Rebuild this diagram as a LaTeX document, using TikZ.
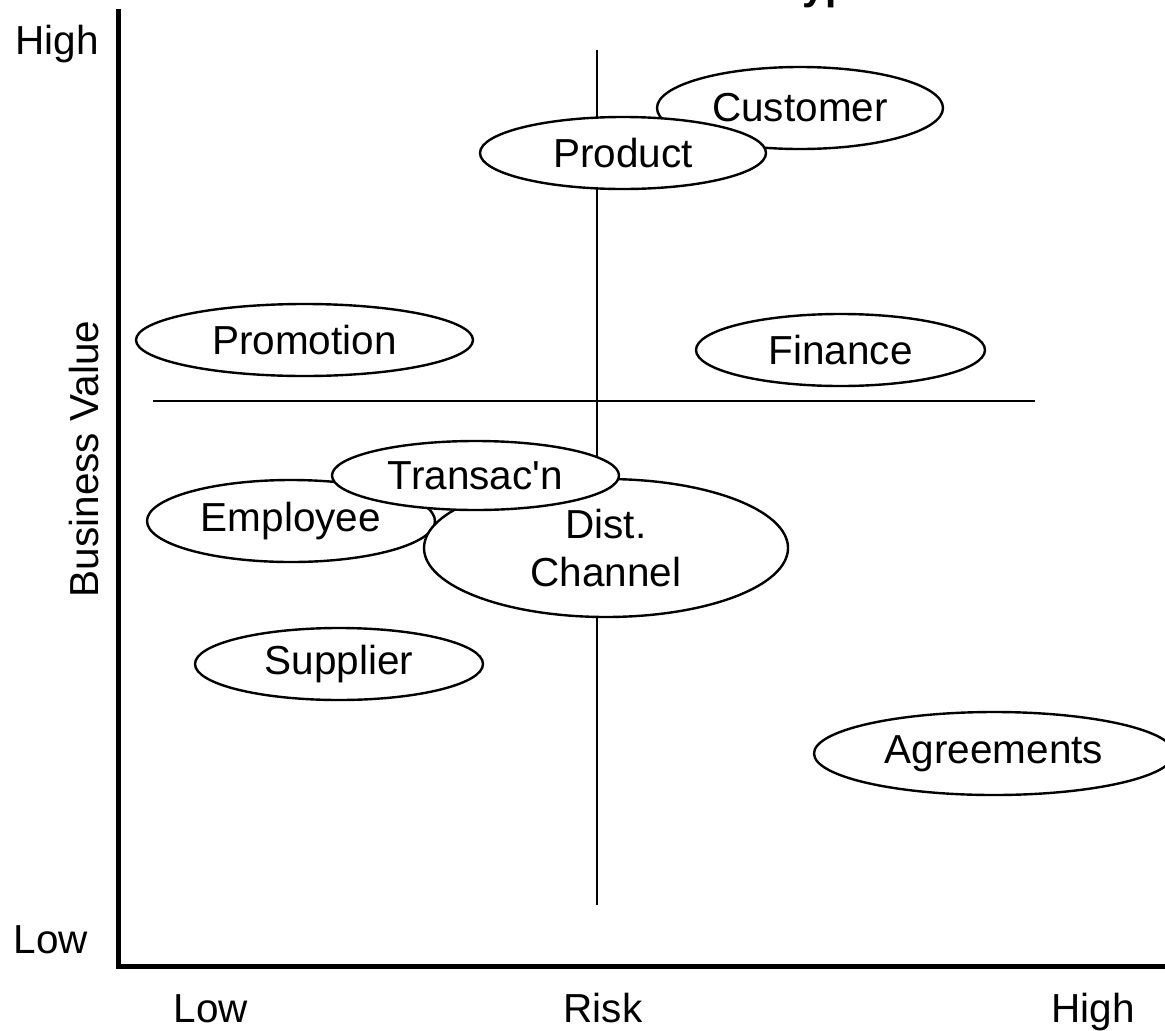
\documentclass[tikz,border=0pt]{standalone}
\usepackage{fontspec}
\setmainfont{Liberation Sans}[Ligatures=TeXOff]
\usetikzlibrary{shapes.geometric}
\begin{document}
\begin{tikzpicture}[x=1pt,y=-1pt,
  lbl/.style={font=\fontsize{40.5}{48}\selectfont, inner sep=0pt},
  blob/.style={draw, line width=2.4pt, ellipse, fill=white, inner sep=0pt,
    font=\fontsize{40.5}{48}\selectfont, align=center},
  axis/.style={line width=5pt},
  quad/.style={line width=2pt}]
\useasboundingbox (0,0) rectangle (1165,1031);
\clip (0,0) rectangle (1165,1031);
% title (cut off at the top, as in the reference)
\node[lbl, font=\fontsize{40.5}{48}\selectfont\bfseries, anchor=base west] (title) at (781,-1) {Types};
% axes
\coordinate (ytop) at (118.5,9);
\coordinate (orig) at (118.5,966.5);
\coordinate (xend) at (1166,966.5);
\draw[axis] (ytop) -- (orig) -- (xend);
% quadrant lines
\coordinate (vtop) at (596.5,50);
\coordinate (vbot) at (596.5,905);
\coordinate (hl) at (153,401);
\coordinate (hr) at (1035,401);
\draw[quad] (vtop) -- (vbot);
\draw[quad] (hl) -- (hr);
% axis labels
\node[lbl, anchor=base] (yhigh) at (57,54) {High};
\node[lbl, anchor=base] (ylow) at (51,953) {Low};
\node[lbl, rotate=90] (ylabel) at (84,459) {Business Value};
\node[lbl, anchor=base] (xlow) at (211,1022) {Low};
\node[lbl, anchor=base] (xrisk) at (603,1022) {Risk};
\node[lbl, anchor=base] (xhigh) at (1093,1022) {High};
% ellipses
\node[blob, minimum width=286pt, minimum height=82pt] (customer) at (800,108) {Customer};
\node[blob, minimum width=286pt, minimum height=72pt] (product) at (623,153) {Product};
\node[blob, minimum width=337pt, minimum height=72pt] (promotion) at (304.5,340) {Promotion};
\node[blob, minimum width=289pt, minimum height=72pt] (finance) at (840.5,350) {Finance};
\node[blob, minimum width=288pt, minimum height=82pt] (employee) at (291,521) {Employee};
\node[blob, minimum width=364pt, minimum height=138pt] (dist) at (606,548) {Dist.\\[0pt]Channel};
\node[blob, minimum width=287pt, minimum height=69pt] (transac) at (475.5,475.5) {Transac'n};
\node[blob, minimum width=288pt, minimum height=72pt] (supplier) at (339,664) {Supplier};
\node[blob, minimum width=360pt, minimum height=83pt] (agreements) at (994,753.5) {Agreements};
\end{tikzpicture}
\end{document}
